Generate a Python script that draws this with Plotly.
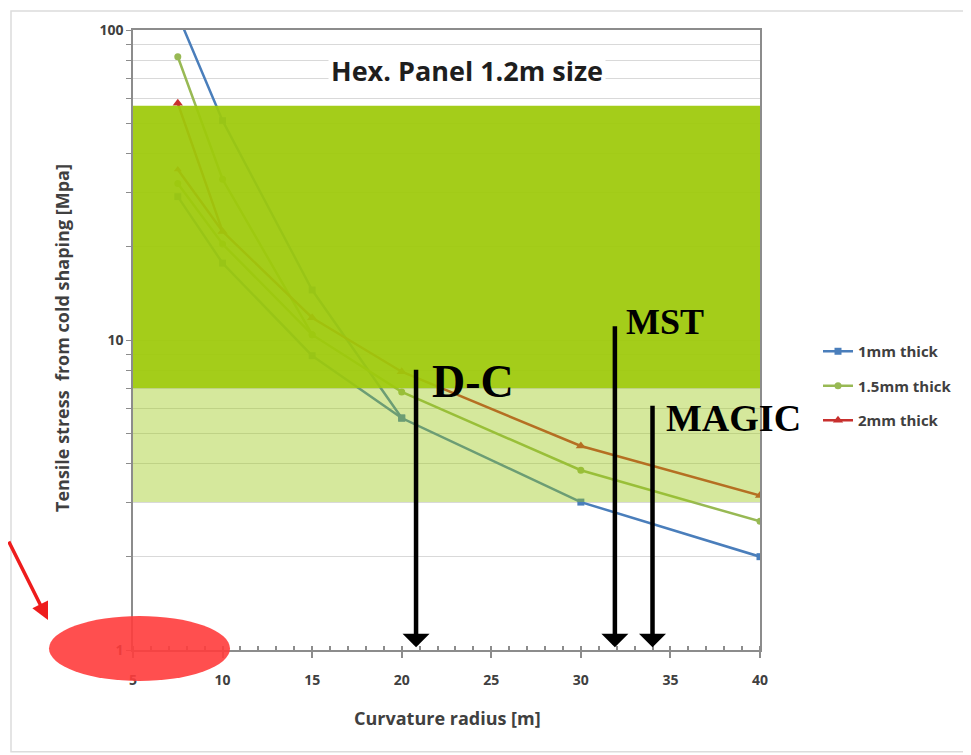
import numpy as np
import plotly.graph_objects as go

# ---------------- data ----------------
radius = [7.5, 10, 15, 20, 30, 40]
stress_1mm = [112, 51, 14.5, 5.6, 3.0, 2.0]
stress_15mm = [82, 33, 10.4, 6.8, 3.8, 2.6]
stress_2mm = [58, 22.4, 11.8, 7.9, 4.55, 3.15]

# faint secondary curves (seen through the green band)
radius_f1 = [7.5, 10, 15, 20]
stress_f1 = [29, 17.7, 8.9, 5.6]
radius_f15 = [7.5, 10, 15]
stress_f15 = [32, 20.4, 10.4]
radius_f2 = [7.5, 10]
stress_f2 = [35.5, 22.4]

band_dark = [7, 57]
band_light = [3, 7]

x_ticks = [5, 10, 15, 20, 25, 30, 35, 40]
y_ticks = [1, 2, 3, 4, 5, 6, 7, 8, 9, 10, 20, 30, 40, 50, 60, 70, 80, 90, 100]
y_labels = ["1", "", "", "", "", "", "", "", "", "10", "", "", "", "", "", "", "", "", "100"]

series_names = ["1mm thick", "1.5mm thick", "2mm thick"]
experiments = ["D-C", "MST", "MAGIC"]
exp_radius = [20.8, 31.9, 34.0]
exp_top = [8.1, 11.2, 6.2]
exp_label_x = [21.6, 32.4, 34.65]
exp_label_y = [7.35, 11.45, 5.6]
exp_font = [46, 36, 38]

title_text = "Hex. Panel 1.2m size"

# ---------------- geometry (page has an 8px body margin) ----------------
OFF = 8
W, H = 963, 747
ML, MT = 125, 20
PW, PH = 627, 622
MR = W - ML - PW
MB = H - MT - PH
PX0 = ML + OFF          # page x of plot left
PY1 = MT + OFF + PH     # page y of plot bottom


def px(x):
    return (x - PX0) / PW


def py(y):
    return (PY1 - y) / PH


BLUE = "#4A7EBB"
GREEN = "#98B954"
RED = "#C8302E"
TXT = "#404040"
FONT = "Open Sans"

fig = go.Figure()

# faint curves first
for xs, ys, col, sym in [
    (radius_f1, stress_f1, BLUE, "square"),
    (radius_f15, stress_f15, GREEN, "circle"),
    (radius_f2, stress_f2, RED, "triangle-up"),
]:
    fig.add_trace(go.Scatter(x=xs, y=ys, mode="lines+markers", showlegend=False,
                             line=dict(color=col, width=2.5),
                             marker=dict(symbol=sym, size=7, color=col),
                             hoverinfo="skip"))

for i, (ys, col, sym, sz) in enumerate([
    (stress_1mm, BLUE, "square", 7),
    (stress_15mm, GREEN, "circle", 7),
    (stress_2mm, RED, "triangle-up", 9),
]):
    fig.add_trace(go.Scatter(x=radius, y=ys, mode="lines+markers", name=series_names[i],
                             legendgroup=f"g{i}",
                             line=dict(color=col, width=2.5),
                             marker=dict(symbol=sym, size=sz, color=col)))

# bands (shape coordinates on a log axis are data values here)
fig.add_shape(type="rect", xref="x", yref="y", x0=5, x1=40,
              y0=band_light[0], y1=band_light[1],
              fillcolor="rgb(155,200,20)", opacity=0.42, line_width=0, layer="above")
fig.add_shape(type="rect", xref="x", yref="y", x0=5, x1=40,
              y0=band_dark[0], y1=band_dark[1],
              fillcolor="rgb(158,202,12)", opacity=0.94, line_width=0, layer="above")

# outer frame
fig.add_shape(type="rect", xref="paper", yref="paper", x0=px(11), x1=px(990), y0=py(752), y1=py(9),
              line=dict(color="#DCDCDC", width=1.5), fillcolor="rgba(0,0,0,0)", layer="below")

# red ellipse highlight
fig.add_shape(type="circle", xref="paper", yref="paper", x0=px(49), x1=px(230), y0=py(681), y1=py(616),
              fillcolor="rgb(255,60,60)", opacity=0.9, line_width=0, layer="above")

annotations = []
# title
annotations.append(dict(text=title_text, xref="paper", yref="paper", x=px(467), y=py(69),
                        showarrow=False, font=dict(family=FONT, size=27, color="#1E1E1E", weight="bold"),
                        bgcolor="white", borderpad=2, xanchor="center", yanchor="middle"))
# axis titles
annotations.append(dict(text="Curvature radius [m]", xref="paper", yref="paper", x=px(447), y=py(718),
                        showarrow=False, font=dict(family=FONT, size=18, color=TXT, weight="bold"),
                        xanchor="center", yanchor="middle"))
annotations.append(dict(text="Tensile stress  from cold shaping [Mpa]", xref="paper", yref="paper",
                        x=px(62), y=py(337), textangle=-90, showarrow=False,
                        font=dict(family=FONT, size=18, color=TXT, weight="bold"),
                        xanchor="center", yanchor="middle"))
# experiment arrows and labels
for name, xr, top, lx, ly, fs in zip(experiments, exp_radius, exp_top, exp_label_x, exp_label_y, exp_font):
    annotations.append(dict(x=xr, y=np.log10(1.02), ax=xr, ay=np.log10(top), xref="x", yref="y",
                            axref="x", ayref="y", showarrow=True, arrowhead=1, arrowsize=1.0,
                            arrowwidth=4.5, arrowcolor="black", text=""))
    annotations.append(dict(text=name, x=lx, y=np.log10(ly), xref="x", yref="y", showarrow=False,
                            xanchor="left", yanchor="middle",
                            font=dict(family="Liberation Serif", size=fs, color="black", weight="bold")))
# red arrow
annotations.append(dict(x=px(48), y=py(620), xref="paper", yref="paper", ax=-70, ay=-80,
                        showarrow=True, arrowhead=2, arrowsize=1.0, arrowwidth=3.5,
                        arrowcolor="#EE1C1C", text=""))

fig.update_layout(
    width=W, height=H,
    margin=dict(l=ML, r=MR, t=MT, b=MB),
    paper_bgcolor="white", plot_bgcolor="white",
    font=dict(family=FONT, color=TXT),
    showlegend=True,
    legend=dict(x=px(818), y=py(334), xanchor="left", yanchor="top",
                font=dict(family=FONT, size=15, color=TXT, weight="bold"),
                tracegroupgap=12, bgcolor="rgba(0,0,0,0)"),
    annotations=annotations,
)
fig.update_xaxes(range=[5, 40], tickvals=x_ticks, showgrid=False, zeroline=False,
                 showline=True, linecolor="#8C8C8C", linewidth=1.5, mirror=True,
                 ticks="outside", ticklen=6, tickcolor="#8C8C8C", tickwidth=1.5,
                 ticklabelstandoff=10,
                 tickfont=dict(family=FONT, size=14, color=TXT, weight="bold"),
                 minor=dict(dtick=1, ticks="inside", ticklen=4, tickcolor="#8C8C8C", showgrid=False))
fig.update_yaxes(type="log", range=[0, 2], tickvals=y_ticks, ticktext=y_labels,
                 showgrid=True, gridcolor="#D9D9D9", gridwidth=1, zeroline=False,
                 showline=True, linecolor="#8C8C8C", linewidth=1.5, mirror=True,
                 ticks="outside", ticklen=5, tickcolor="#8C8C8C",
                 tickfont=dict(family=FONT, size=14, color=TXT, weight="bold"))

fig.write_html("out.html")
